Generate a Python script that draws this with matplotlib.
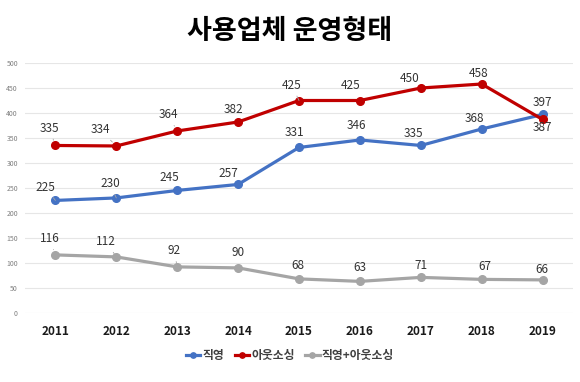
import matplotlib.pyplot as plt

plt.rcParams['font.family'] = ['Noto Sans CJK KR', 'DejaVu Sans']

years = ['2011', '2012', '2013', '2014', '2015', '2016', '2017', '2018', '2019']
direct = [225, 230, 245, 257, 331, 346, 335, 368, 397]
outsourcing = [335, 334, 364, 382, 425, 425, 450, 458, 387]
mixed = [116, 112, 92, 90, 68, 63, 71, 67, 66]

series_names = ['직영', '아웃소싱', '직영+아웃소싱']
colors = ['#4472C4', '#C00000', '#A5A5A5']

# label offsets in pixels (dx, dy), y up
direct_off = [(-10, 13), (-6, 14), (-8, 13), (-10, 11), (-5, 15), (-3, 14), (-7, 12), (-7, 10), (0, 12)]
out_off = [(-6, 17), (-16, 16), (-9, 16), (-5, 12), (-7, 15), (-9, 15), (-11, 10), (-3, 11), (0, -8)]
mixed_off = [(-6, 16), (-10, 15), (-3, 16), (0, 15), (-1, 13), (0, 14), (0, 12), (3, 13), (-1, 10)]
leader = {('d', 0), ('d', 1), ('o', 0), ('o', 1), ('o', 2), ('o', 4), ('m', 0), ('m', 1), ('m', 2)}

fig = plt.figure(figsize=(5.8, 3.82), dpi=100)
ax = fig.add_axes([0.043, 0.181, 0.945, 0.654])

x = list(range(len(years)))
for key, vals, offs, c, name in [('d', direct, direct_off, colors[0], series_names[0]),
                                 ('o', outsourcing, out_off, colors[1], series_names[1]),
                                 ('m', mixed, mixed_off, colors[2], series_names[2])]:
    ax.plot(x, vals, color=c, lw=2.3, marker='o', ms=5.5, label=name, zorder=3)
    for i, v in enumerate(vals):
        dx, dy = offs[i]
        ap = None
        if (key, i) in leader:
            ap = dict(arrowstyle='-', color='#A6A6A6', lw=0.6, shrinkA=1, shrinkB=4)
        ax.annotate(str(v), (i, v), xytext=(dx * 0.72, dy * 0.72), textcoords='offset points',
                    ha='center', va='center', fontsize=8.5, fontweight='medium', color='#333333',
                    arrowprops=ap, zorder=4)

ax.set_xlim(-0.5, len(years) - 0.5)
ax.set_ylim(0, 500)
ax.set_yticks(range(0, 501, 50))
ax.set_xticks(x)
ax.set_xticklabels(years, fontsize=8.5, fontweight='bold', color='#1a1a1a')
ax.tick_params(axis='y', labelsize=5, colors='#7f7f7f', length=0, pad=5)
ax.tick_params(axis='x', length=0, pad=9)
ax.grid(axis='y', color='#E6E6E6', lw=0.8)
ax.set_axisbelow(True)
for s in ax.spines.values():
    s.set_visible(False)

fig.text(0.5, 0.92, '사용업체 운영형태', ha='center', va='center', fontsize=19.5, fontweight='bold')
fig.legend(loc='center', bbox_to_anchor=(0.5, 0.07), ncol=3, frameon=False,
           prop={'size': 8.5, 'weight': 'bold'}, labelcolor='#404040',
           handlelength=1.2, handletextpad=0.2, columnspacing=0.9, markerscale=0.7)

plt.savefig('out.png', dpi=100)
